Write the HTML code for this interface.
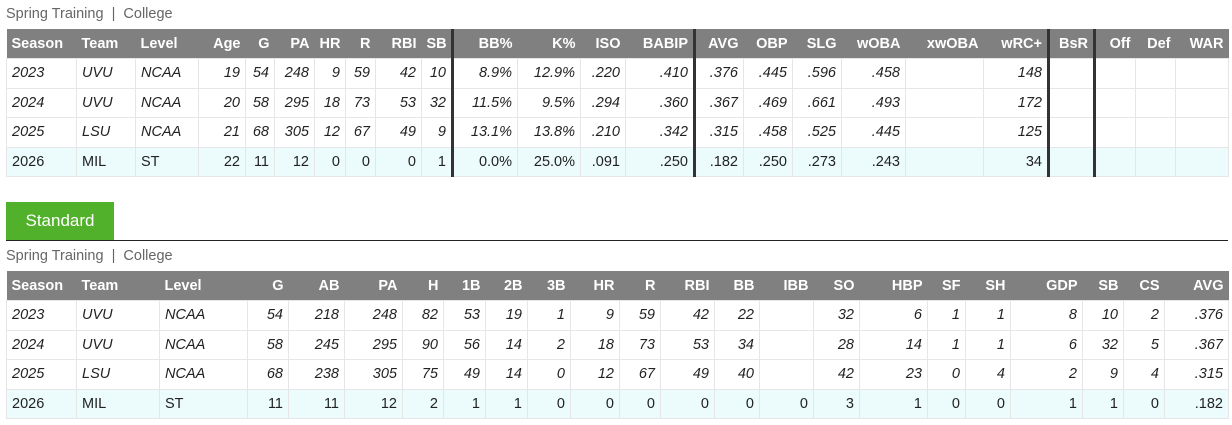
<!DOCTYPE html>
<html><head><meta charset="utf-8"><style>
body{margin:0;background:#fff;font-family:"Liberation Sans",sans-serif;width:1232px;height:425px;overflow:hidden;position:relative}
.lbl{position:absolute;left:6px;font-size:14.5px;color:#666}
table{position:absolute;left:6px;border-collapse:collapse;table-layout:fixed;font-size:14.5px}
th{background:#808080;color:#fff;font-weight:bold;height:29px;padding:0 5px;text-align:right;border:none;white-space:nowrap}
td{border:1px solid #e6e6e6;height:28.5px;padding:0 5px;text-align:right;font-style:italic;color:#222;white-space:nowrap}
th.l,td.l{text-align:left}
tr.c td{background:#ecfcfc;font-style:normal}
.tk{border-right:3px solid #333!important}
.btn{position:absolute;left:6px;top:202px;width:108px;height:38px;background:#52b12a;color:#fff;font-size:17px;line-height:38px;text-align:center}
.hr{position:absolute;left:6px;top:240px;width:1222px;height:1px;background:#222}
</style></head><body>
<div class="lbl" style="top:6px">Spring Training &nbsp;|&nbsp; College</div>
<table style="top:29px;width:1222px">
<colgroup><col style="width:70px"><col style="width:59px"><col style="width:63px"><col style="width:47px"><col style="width:29px"><col style="width:40px"><col style="width:31px"><col style="width:30px"><col style="width:46px"><col style="width:31px"><col style="width:65px"><col style="width:63px"><col style="width:45px"><col style="width:69px"><col style="width:49px"><col style="width:49px"><col style="width:49px"><col style="width:64px"><col style="width:78px"><col style="width:65px"><col style="width:46px"><col style="width:41px"><col style="width:40px"><col style="width:53px"></colgroup>
<tr><th class="l">Season</th><th class="l">Team</th><th class="l">Level</th><th>Age</th><th>G</th><th>PA</th><th>HR</th><th>R</th><th>RBI</th><th class="tk">SB</th><th>BB%</th><th>K%</th><th>ISO</th><th class="tk">BABIP</th><th>AVG</th><th>OBP</th><th>SLG</th><th>wOBA</th><th>xwOBA</th><th class="tk">wRC+</th><th class="tk">BsR</th><th>Off</th><th>Def</th><th>WAR</th></tr>
<tr><td class="l">2023</td><td class="l">UVU</td><td class="l">NCAA</td><td>19</td><td>54</td><td>248</td><td>9</td><td>59</td><td>42</td><td class="tk">10</td><td>8.9%</td><td>12.9%</td><td>.220</td><td class="tk">.410</td><td>.376</td><td>.445</td><td>.596</td><td>.458</td><td></td><td class="tk">148</td><td class="tk"></td><td></td><td></td><td></td></tr>
<tr><td class="l">2024</td><td class="l">UVU</td><td class="l">NCAA</td><td>20</td><td>58</td><td>295</td><td>18</td><td>73</td><td>53</td><td class="tk">32</td><td>11.5%</td><td>9.5%</td><td>.294</td><td class="tk">.360</td><td>.367</td><td>.469</td><td>.661</td><td>.493</td><td></td><td class="tk">172</td><td class="tk"></td><td></td><td></td><td></td></tr>
<tr><td class="l">2025</td><td class="l">LSU</td><td class="l">NCAA</td><td>21</td><td>68</td><td>305</td><td>12</td><td>67</td><td>49</td><td class="tk">9</td><td>13.1%</td><td>13.8%</td><td>.210</td><td class="tk">.342</td><td>.315</td><td>.458</td><td>.525</td><td>.445</td><td></td><td class="tk">125</td><td class="tk"></td><td></td><td></td><td></td></tr>
<tr class="c"><td class="l">2026</td><td class="l">MIL</td><td class="l">ST</td><td>22</td><td>11</td><td>12</td><td>0</td><td>0</td><td>0</td><td class="tk">1</td><td>0.0%</td><td>25.0%</td><td>.091</td><td class="tk">.250</td><td>.182</td><td>.250</td><td>.273</td><td>.243</td><td></td><td class="tk">34</td><td class="tk"></td><td></td><td></td><td></td></tr>
</table>
<div class="btn">Standard</div>
<div class="hr"></div>
<div class="lbl" style="top:248px">Spring Training &nbsp;|&nbsp; College</div>
<table style="top:271px;width:1222px">
<colgroup><col style="width:70px"><col style="width:83px"><col style="width:88px"><col style="width:41px"><col style="width:56px"><col style="width:58px"><col style="width:41px"><col style="width:42px"><col style="width:42px"><col style="width:43px"><col style="width:49px"><col style="width:41px"><col style="width:54px"><col style="width:45px"><col style="width:54px"><col style="width:46px"><col style="width:68px"><col style="width:38px"><col style="width:45px"><col style="width:72px"><col style="width:41px"><col style="width:41px"><col style="width:64px"></colgroup>
<tr><th class="l">Season</th><th class="l">Team</th><th class="l">Level</th><th>G</th><th>AB</th><th>PA</th><th>H</th><th>1B</th><th>2B</th><th>3B</th><th>HR</th><th>R</th><th>RBI</th><th>BB</th><th>IBB</th><th>SO</th><th>HBP</th><th>SF</th><th>SH</th><th>GDP</th><th>SB</th><th>CS</th><th>AVG</th></tr>
<tr><td class="l">2023</td><td class="l">UVU</td><td class="l">NCAA</td><td>54</td><td>218</td><td>248</td><td>82</td><td>53</td><td>19</td><td>1</td><td>9</td><td>59</td><td>42</td><td>22</td><td></td><td>32</td><td>6</td><td>1</td><td>1</td><td>8</td><td>10</td><td>2</td><td>.376</td></tr>
<tr><td class="l">2024</td><td class="l">UVU</td><td class="l">NCAA</td><td>58</td><td>245</td><td>295</td><td>90</td><td>56</td><td>14</td><td>2</td><td>18</td><td>73</td><td>53</td><td>34</td><td></td><td>28</td><td>14</td><td>1</td><td>1</td><td>6</td><td>32</td><td>5</td><td>.367</td></tr>
<tr><td class="l">2025</td><td class="l">LSU</td><td class="l">NCAA</td><td>68</td><td>238</td><td>305</td><td>75</td><td>49</td><td>14</td><td>0</td><td>12</td><td>67</td><td>49</td><td>40</td><td></td><td>42</td><td>23</td><td>0</td><td>4</td><td>2</td><td>9</td><td>4</td><td>.315</td></tr>
<tr class="c"><td class="l">2026</td><td class="l">MIL</td><td class="l">ST</td><td>11</td><td>11</td><td>12</td><td>2</td><td>1</td><td>1</td><td>0</td><td>0</td><td>0</td><td>0</td><td>0</td><td>0</td><td>3</td><td>1</td><td>0</td><td>0</td><td>1</td><td>1</td><td>0</td><td>.182</td></tr>
</table>
</body></html>
